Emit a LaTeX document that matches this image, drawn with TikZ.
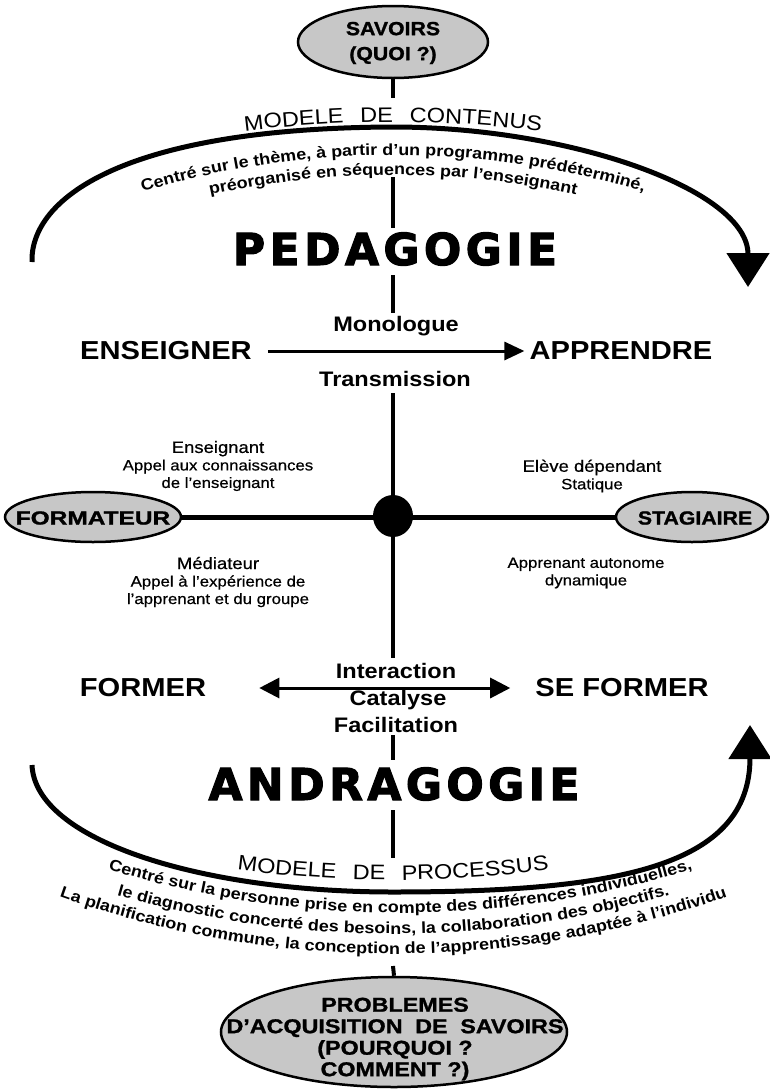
\documentclass[tikz,border=0pt]{standalone}
\usepackage{fontspec}
\setmainfont{Liberation Sans}
\newfontfamily\stfont[FakeStretch=1.12]{Liberation Sans}
\newfontfamily\medfont[FakeStretch=1.12,FakeBold=0.6]{Liberation Sans}
\newfontfamily\blobfont[FakeStretch=1.12,FakeBold=1.2]{Liberation Sans}
\newfontfamily\hvfont[LetterSpace=10,FakeBold=2.5]{DejaVu Sans Bold}
\usetikzlibrary{shapes.geometric,arrows.meta,decorations.text}
\begin{document}
\begin{tikzpicture}[x=1pt,y=-1pt,
  vline/.style={line width=4pt},
  hline/.style={line width=5pt},
  blob/.style={ellipse, draw, line width=2.5pt, fill=black!22, inner sep=0},
  bigarc/.style={line width=5pt, -{Triangle[length=34pt,width=42pt]}},
  big/.style={inner sep=0, font=\stfont\bfseries\fontsize{26}{26}\selectfont},
  mid/.style={inner sep=0, font=\stfont\bfseries\fontsize{21}{21}\selectfont},
  small/.style={inner sep=0, align=center, font=\medfont\fontsize{15}{17.5}\selectfont},
  huge/.style={inner sep=0, font=\hvfont\fontsize{44}{44}\selectfont},
  blobtxt/.style={inner sep=0, align=center, font=\blobfont\bfseries\fontsize{19}{25}\selectfont},
  curvetxt/.style={decorate, decoration={text along path, text align=center, text={#1}}}
]
\useasboundingbox (0,0) rectangle (769,1090);
\fill[white] (0,0) rectangle (769,1090);

% arcs
\coordinate (topL) at (32,262);
\coordinate (topM) at (393,127);
\coordinate (topR) at (748,287);
\draw[bigarc] (topL) .. controls (30,200) and (120,128) .. (topM) .. controls (570,127) and (748,190) .. (topR);
\coordinate (botL) at (32,765);
\coordinate (botM) at (393,892);
\coordinate (botR) at (750,725);
\draw[bigarc] (botL) .. controls (35,840) and (200,892) .. (botM) .. controls (620,892) and (750,866) .. (botR);

% ellipses
\node[blob, minimum width=190pt, minimum height=72pt] (savoirs) at (393,42) {};
\node[blobtxt] (savoirsT) at (393,43) {SAVOIRS\\(QUOI ?)};
\node[blob, minimum width=176pt, minimum height=50pt] (formateur) at (93,517) {};
\node[blob, minimum width=152pt, minimum height=50pt] (stagiaire) at (692,517) {};
\node[blob, minimum width=346pt, minimum height=110pt] (problemes) at (394,1032) {};
\node[blobtxt, font=\blobfont\bfseries\fontsize{20}{21.5}\selectfont, xscale=1.04] (problemesT) at (395,1039) {PROBLEMES\\D’ACQUISITION\hspace{6pt} DE\hspace{6pt} SAVOIRS\\(POURQUOI ?\\COMMENT ?)};

% horizontal axis and centre
\draw[hline] (formateur.east) -- (stagiaire.west);
\node[blobtxt, xscale=1.15] (formateurT) at (93,518) {FORMATEUR};
\node[blobtxt] (stagiaireT) at (695,518) {STAGIAIRE};
\node[ellipse, fill=black, minimum width=40pt, minimum height=42pt, inner sep=0] (dot) at (393,516) {};

% vertical axis pieces
\coordinate (c1) at (393,98);
\coordinate (c2) at (393,177);
\coordinate (c3) at (393,228);
\coordinate (c4) at (393,275);
\coordinate (c5) at (393,313);
\coordinate (c6) at (393,393);
\coordinate (c7) at (393,658);
\coordinate (c8) at (393,735);
\coordinate (c9) at (393,760);
\coordinate (c10) at (393,810);
\coordinate (c11) at (393,858);
\coordinate (c12) at (393,966);
\draw[vline] (savoirs.south) -- (c1);
\draw[vline] (c2) -- (c3);
\draw[vline] (c4) -- (c5);
\draw[vline] (c6) -- (dot.north);
\draw[vline] (dot.south) -- (c7);
\draw[vline] (c8) -- (c9);
\draw[vline] (c10) -- (c11);
\draw[vline] (c12) -- (problemes.north);

% titles
\node[huge] (pedagogie) at (395,249) {PEDAGOGIE};
\node[huge] (andragogie) at (394,784) {ANDRAGOGIE};

% upper part
\node[mid] (monologue) at (396,326) {Monologue};
\node[big] (enseigner) at (166,351) {ENSEIGNER};
\node[big] (apprendre) at (621,351) {APPRENDRE};
\node[mid] (transmission) at (395,379) {Transmission};
\draw[line width=3pt, -{Triangle[length=20pt,width=18pt]}, shorten <=16pt, shorten >=5pt] (enseigner) -- (apprendre);

\node[small] (enseignant) at (218,466) {{\fontsize{16.5}{17.5}\selectfont Enseignant}\\Appel aux connaissances\\de l’enseignant};
\node[small] (eleve) at (592,476) {{\fontsize{16.5}{17.5}\selectfont Elève dépendant}\\Statique};
\node[small] (mediateur) at (218,582) {{\fontsize{16.5}{17.5}\selectfont Médiateur}\\Appel à l’expérience de\\l’apprenant et du groupe};
\node[small] (apprenant) at (586,573) {Apprenant autonome\\dynamique};

% lower part
\node[mid] (interaction) at (396,671) {Interaction};
\node[mid] (catalyse) at (398,700) {Catalyse};
\node[mid] (facilitation) at (396,725) {Facilitation};
\node[big] (former) at (143,688) {FORMER};
\node[big] (seformer) at (622,688) {SE FORMER};
\draw[line width=3pt, {Triangle[length=20pt,width=20pt]}-{Triangle[length=20pt,width=20pt]}, shorten <=53pt, shorten >=25pt] (former) -- (seformer);

% curved texts (top)
\path[curvetxt={|\stfont\fontsize{21}{21}\selectfont|MODELE{\kern10pt} DE{\kern10pt} CONTENUS}]
  ([shift={(260:1200)}]393,1322) arc[start angle=260, end angle=280, radius=1200];
\path[curvetxt={|\stfont\bfseries\fontsize{16}{16}\selectfont|Centré sur le thème, à partir d’un programme prédéterminé,}]
  ([shift={(250:870)}]393,1025) arc[start angle=250, end angle=290, radius=870];
\path[curvetxt={|\stfont\bfseries\fontsize{16}{16}\selectfont|préorganisé en séquences par l’enseignant}]
  ([shift={(255:850)}]393,1025) arc[start angle=255, end angle=285, radius=850];

% curved texts (bottom)
\path[curvetxt={|\stfont\fontsize{21}{21}\selectfont|MODELE{\kern10pt} DE{\kern10pt} PROCESSUS}]
  ([shift={(100:1200)}]393,-320) arc[start angle=100, end angle=80, radius=1200];
\path[curvetxt={|\stfont\bfseries\fontsize{16}{16}\selectfont|Centré sur la personne prise en compte des différences individuelles,}]
  ([shift={(112:1000)}]400,-87) arc[start angle=112, end angle=68, radius=1000];
\path[curvetxt={|\stfont\bfseries\fontsize{16}{16}\selectfont|le diagnostic concerté des besoins, la collaboration des objectifs.}]
  ([shift={(112:1000)}]393,-66) arc[start angle=112, end angle=68, radius=1000];
\path[curvetxt={|\stfont\bfseries\fontsize{16}{16}\selectfont|La planification commune, la conception de l’apprentissage adaptée à l’individu}]
  ([shift={(113:1000)}]393,-46) arc[start angle=113, end angle=67, radius=1000];
\end{tikzpicture}
\end{document}
